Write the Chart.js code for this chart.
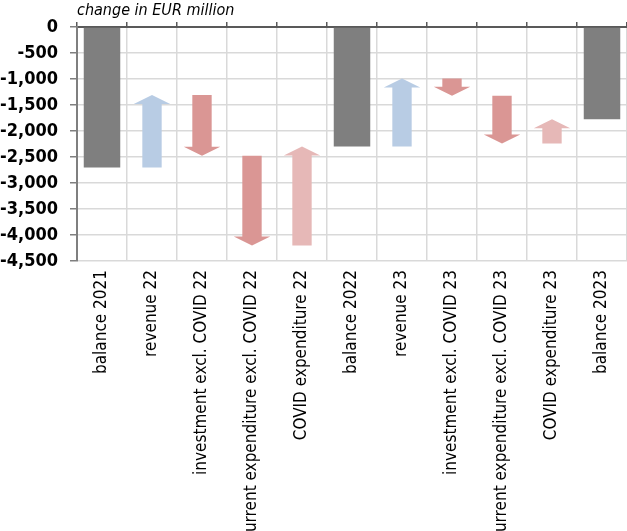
<!DOCTYPE html>
<html>
<head>
<meta charset="utf-8">
<script src="https://cdn.jsdelivr.net/npm/chart.js@4"></script>
<style>
  html, body { margin: 0; padding: 0; background: #fff; }
  #wrap { width: 627px; height: 531px; }
</style>
</head>
<body>
<div id="wrap"><canvas id="chart"></canvas></div>
<script>
// Budget balance bridge, change in EUR million
const categories = [
  'balance 2021', 'revenue 22', 'investment excl. COVID 22',
  'current expenditure excl. COVID 22', 'COVID expenditure 22', 'balance 2022',
  'revenue 23', 'investment excl. COVID 23', 'current expenditure excl. COVID 23',
  'COVID expenditure 23', 'balance 2023'
];
// where each bar / arrow starts and ends
const startValues = [0, -2700, -1310, -2475, -4200, 0, -2300, -990, -1320, -2240, 0];
const endValues   = [-2700, -1310, -2475, -4200, -2300, -2300, -990, -1320, -2240, -1775, -1775];
// bar kind: total balance, revenue, spending, COVID spending
const barKinds = ['total', 'revenue', 'spending', 'spending', 'covid', 'total',
                  'revenue', 'spending', 'spending', 'covid', 'total'];
const yTicks = [0, -500, -1000, -1500, -2000, -2500, -3000, -3500, -4000, -4500];

const kindColors = {
  total: '#7f7f7f',
  revenue: '#b8cce4',
  spending: '#da9694',
  covid: '#e6b8b7'
};

const FONT = "'DejaVu Sans Condensed', 'DejaVu Sans', sans-serif";

// changes are drawn as arrows on top of invisible floating bars
const arrowPlugin = {
  id: 'bridgeArrows',
  afterDatasetsDraw(chart) {
    const meta = chart.getDatasetMeta(0);
    const yScale = chart.scales.y;
    const ctx = chart.ctx;
    ctx.save();
    meta.data.forEach((bar, i) => {
      if (barKinds[i] === 'total') return;
      const { x, width } = bar.getProps(['x', 'width'], true);
      const tail = yScale.getPixelForValue(startValues[i]);
      const tip = yScale.getPixelForValue(endValues[i]);
      const dir = tip < tail ? -1 : 1;
      const headH = Math.min(9, Math.abs(tip - tail));
      const shaft = width * 0.53;
      const neck = tip - dir * headH;
      ctx.fillStyle = kindColors[barKinds[i]];
      ctx.beginPath();
      ctx.moveTo(x - shaft / 2, tail);
      ctx.lineTo(x - shaft / 2, neck);
      ctx.lineTo(x - width / 2, neck);
      ctx.lineTo(x, tip);
      ctx.lineTo(x + width / 2, neck);
      ctx.lineTo(x + shaft / 2, neck);
      ctx.lineTo(x + shaft / 2, tail);
      ctx.closePath();
      ctx.fill();
    });
    ctx.restore();
  }
};

function noSidePadding(s) {
  s.paddingLeft = 0;
  s.paddingRight = 0;
}

new Chart(document.getElementById('chart'), {
  type: 'bar',
  data: {
    labels: categories,
    datasets: [{
      data: startValues.map((s, i) => [s, endValues[i]]),
      backgroundColor: barKinds.map(k => k === 'total' ? kindColors.total : 'rgba(0,0,0,0)'),
      borderWidth: 0,
      categoryPercentage: 1,
      barPercentage: 0.73
    }]
  },
  options: {
    responsive: true,
    maintainAspectRatio: false,
    animation: false,
    layout: { padding: { left: 0, top: 0, bottom: 0, right: -2 } },
    plugins: {
      legend: { display: false },
      tooltip: { enabled: false },
      title: {
        display: true,
        text: 'change in EUR million',
        align: 'start',
        fullSize: false,
        color: '#000',
        font: { family: FONT, size: 16, style: 'italic', weight: 'normal', lineHeight: 1.3 },
        padding: { top: 0, bottom: 0 }
      }
    },
    scales: {
      x: {
        position: 'bottom',
        offset: true,
        grid: { offset: true, color: '#d9d9d9', lineWidth: 1.5, drawTicks: false },
        border: { display: false },
        ticks: {
          autoSkip: false, minRotation: 90, maxRotation: 90, padding: 9,
          color: '#000', font: { family: FONT, size: 17 }
        },
        afterFit(s) { s.height = 270; noSidePadding(s); }
      },
      xTop: {
        type: 'category',
        labels: categories,
        position: 'top',
        offset: true,
        grid: { offset: true, drawOnChartArea: false, tickLength: 5, tickColor: '#595959', lineWidth: 1.5 },
        border: { color: '#595959', width: 2 },
        ticks: { display: false },
        afterFit(s) { s.height = 27 - 16 * 1.3; noSidePadding(s); }
      },
      y: {
        min: -4500, max: 0,
        afterBuildTicks(s) { s.ticks = yTicks.map(v => ({ value: v })); },
        grid: { color: '#d9d9d9', lineWidth: 1.5, tickLength: 7, tickColor: '#7f7f7f' },
        border: { color: '#7f7f7f', width: 2 },
        ticks: {
          padding: 12, color: '#000',
          font: { family: FONT, size: 18, weight: 'bold' },
          callback: v => Number(v).toLocaleString('en-US')
        },
        afterFit(s) { s.width = 77; }
      }
    }
  },
  plugins: [arrowPlugin]
});
</script>
</body>
</html>
